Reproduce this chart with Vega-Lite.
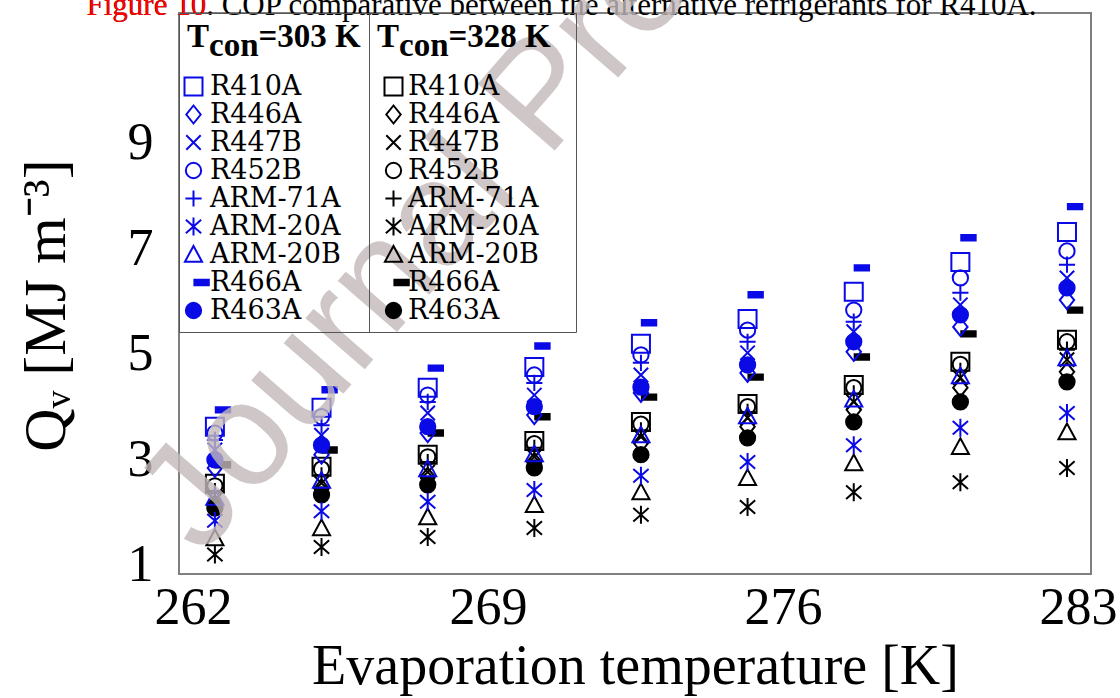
{
  "$schema": "https://vega.github.io/schema/vega-lite/v6.json",
  "width": 912,
  "height": 561,
  "autosize": {"type": "none"},
  "padding": {"left": 179, "top": 13, "right": 29, "bottom": 124},
  "background": "white",
  "config": {"font": "Liberation Serif", "view": {"stroke": "#808080", "strokeWidth": 2}},
  "data": {"values": [
    {"T":262.52,"Qv":3.62,"cond":"303 K","ref":"R410A"},{"T":265.05,"Qv":3.98,"cond":"303 K","ref":"R410A"},{"T":267.57,"Qv":4.36,"cond":"303 K","ref":"R410A"},{"T":270.10,"Qv":4.75,"cond":"303 K","ref":"R410A"},{"T":272.63,"Qv":5.19,"cond":"303 K","ref":"R410A"},{"T":275.16,"Qv":5.66,"cond":"303 K","ref":"R410A"},{"T":277.68,"Qv":6.18,"cond":"303 K","ref":"R410A"},{"T":280.21,"Qv":6.74,"cond":"303 K","ref":"R410A"},{"T":282.74,"Qv":7.31,"cond":"303 K","ref":"R410A"},
    {"T":262.52,"Qv":2.84,"cond":"303 K","ref":"R446A"},{"T":265.05,"Qv":3.09,"cond":"303 K","ref":"R446A"},{"T":267.57,"Qv":3.50,"cond":"303 K","ref":"R446A"},{"T":270.10,"Qv":3.84,"cond":"303 K","ref":"R446A"},{"T":272.63,"Qv":4.26,"cond":"303 K","ref":"R446A"},{"T":275.16,"Qv":4.64,"cond":"303 K","ref":"R446A"},{"T":277.68,"Qv":5.04,"cond":"303 K","ref":"R446A"},{"T":280.21,"Qv":5.51,"cond":"303 K","ref":"R446A"},{"T":282.74,"Qv":6.02,"cond":"303 K","ref":"R446A"},
    {"T":262.52,"Qv":3.18,"cond":"303 K","ref":"R447B"},{"T":265.05,"Qv":3.46,"cond":"303 K","ref":"R447B"},{"T":267.57,"Qv":3.88,"cond":"303 K","ref":"R447B"},{"T":270.10,"Qv":4.22,"cond":"303 K","ref":"R447B"},{"T":272.63,"Qv":4.60,"cond":"303 K","ref":"R447B"},{"T":275.16,"Qv":5.02,"cond":"303 K","ref":"R447B"},{"T":277.68,"Qv":5.42,"cond":"303 K","ref":"R447B"},{"T":280.21,"Qv":5.93,"cond":"303 K","ref":"R447B"},{"T":282.74,"Qv":6.44,"cond":"303 K","ref":"R447B"},
    {"T":262.52,"Qv":3.50,"cond":"303 K","ref":"R452B"},{"T":265.05,"Qv":3.81,"cond":"303 K","ref":"R452B"},{"T":267.57,"Qv":4.22,"cond":"303 K","ref":"R452B"},{"T":270.10,"Qv":4.60,"cond":"303 K","ref":"R452B"},{"T":272.63,"Qv":4.98,"cond":"303 K","ref":"R452B"},{"T":275.16,"Qv":5.45,"cond":"303 K","ref":"R452B"},{"T":277.68,"Qv":5.83,"cond":"303 K","ref":"R452B"},{"T":280.21,"Qv":6.44,"cond":"303 K","ref":"R452B"},{"T":282.74,"Qv":6.95,"cond":"303 K","ref":"R452B"},
    {"T":262.52,"Qv":3.37,"cond":"303 K","ref":"ARM-71A"},{"T":265.05,"Qv":3.65,"cond":"303 K","ref":"ARM-71A"},{"T":267.57,"Qv":4.09,"cond":"303 K","ref":"ARM-71A"},{"T":270.10,"Qv":4.45,"cond":"303 K","ref":"ARM-71A"},{"T":272.63,"Qv":4.83,"cond":"303 K","ref":"ARM-71A"},{"T":275.16,"Qv":5.23,"cond":"303 K","ref":"ARM-71A"},{"T":277.68,"Qv":5.61,"cond":"303 K","ref":"ARM-71A"},{"T":280.21,"Qv":6.16,"cond":"303 K","ref":"ARM-71A"},{"T":282.74,"Qv":6.69,"cond":"303 K","ref":"ARM-71A"},
    {"T":262.52,"Qv":1.84,"cond":"303 K","ref":"ARM-20A"},{"T":265.05,"Qv":2.02,"cond":"303 K","ref":"ARM-20A"},{"T":267.57,"Qv":2.20,"cond":"303 K","ref":"ARM-20A"},{"T":270.10,"Qv":2.42,"cond":"303 K","ref":"ARM-20A"},{"T":272.63,"Qv":2.69,"cond":"303 K","ref":"ARM-20A"},{"T":275.16,"Qv":2.95,"cond":"303 K","ref":"ARM-20A"},{"T":277.68,"Qv":3.27,"cond":"303 K","ref":"ARM-20A"},{"T":280.21,"Qv":3.60,"cond":"303 K","ref":"ARM-20A"},{"T":282.74,"Qv":3.88,"cond":"303 K","ref":"ARM-20A"},
    {"T":262.52,"Qv":2.28,"cond":"303 K","ref":"ARM-20B"},{"T":265.05,"Qv":2.60,"cond":"303 K","ref":"ARM-20B"},{"T":267.57,"Qv":2.82,"cond":"303 K","ref":"ARM-20B"},{"T":270.10,"Qv":3.10,"cond":"303 K","ref":"ARM-20B"},{"T":272.63,"Qv":3.46,"cond":"303 K","ref":"ARM-20B"},{"T":275.16,"Qv":3.82,"cond":"303 K","ref":"ARM-20B"},{"T":277.68,"Qv":4.14,"cond":"303 K","ref":"ARM-20B"},{"T":280.21,"Qv":4.58,"cond":"303 K","ref":"ARM-20B"},{"T":282.74,"Qv":4.92,"cond":"303 K","ref":"ARM-20B"},
    {"T":262.52,"Qv":3.94,"cond":"303 K","ref":"R466A"},{"T":265.05,"Qv":4.32,"cond":"303 K","ref":"R466A"},{"T":267.57,"Qv":4.73,"cond":"303 K","ref":"R466A"},{"T":270.10,"Qv":5.15,"cond":"303 K","ref":"R466A"},{"T":272.63,"Qv":5.59,"cond":"303 K","ref":"R466A"},{"T":275.16,"Qv":6.12,"cond":"303 K","ref":"R466A"},{"T":277.68,"Qv":6.63,"cond":"303 K","ref":"R466A"},{"T":280.21,"Qv":7.20,"cond":"303 K","ref":"R466A"},{"T":282.74,"Qv":7.79,"cond":"303 K","ref":"R466A"},
    {"T":262.52,"Qv":2.99,"cond":"303 K","ref":"R463A"},{"T":265.05,"Qv":3.27,"cond":"303 K","ref":"R463A"},{"T":267.57,"Qv":3.62,"cond":"303 K","ref":"R463A"},{"T":270.10,"Qv":4.00,"cond":"303 K","ref":"R463A"},{"T":272.63,"Qv":4.37,"cond":"303 K","ref":"R463A"},{"T":275.16,"Qv":4.79,"cond":"303 K","ref":"R463A"},{"T":277.68,"Qv":5.23,"cond":"303 K","ref":"R463A"},{"T":280.21,"Qv":5.74,"cond":"303 K","ref":"R463A"},{"T":282.74,"Qv":6.25,"cond":"303 K","ref":"R463A"},
    {"T":262.52,"Qv":2.54,"cond":"328 K","ref":"R410A"},{"T":265.05,"Qv":2.86,"cond":"328 K","ref":"R410A"},{"T":267.57,"Qv":3.09,"cond":"328 K","ref":"R410A"},{"T":270.10,"Qv":3.35,"cond":"328 K","ref":"R410A"},{"T":272.63,"Qv":3.71,"cond":"328 K","ref":"R410A"},{"T":275.16,"Qv":4.05,"cond":"328 K","ref":"R410A"},{"T":277.68,"Qv":4.41,"cond":"328 K","ref":"R410A"},{"T":280.21,"Qv":4.85,"cond":"328 K","ref":"R410A"},{"T":282.74,"Qv":5.27,"cond":"328 K","ref":"R410A"},
    {"T":262.52,"Qv":2.15,"cond":"328 K","ref":"R446A"},{"T":265.05,"Qv":2.45,"cond":"328 K","ref":"R446A"},{"T":267.57,"Qv":2.67,"cond":"328 K","ref":"R446A"},{"T":270.10,"Qv":2.95,"cond":"328 K","ref":"R446A"},{"T":272.63,"Qv":3.31,"cond":"328 K","ref":"R446A"},{"T":275.16,"Qv":3.62,"cond":"328 K","ref":"R446A"},{"T":277.68,"Qv":3.94,"cond":"328 K","ref":"R446A"},{"T":280.21,"Qv":4.36,"cond":"328 K","ref":"R446A"},{"T":282.74,"Qv":4.66,"cond":"328 K","ref":"R446A"},
    {"T":262.52,"Qv":2.23,"cond":"328 K","ref":"R447B"},{"T":265.05,"Qv":2.55,"cond":"328 K","ref":"R447B"},{"T":267.57,"Qv":2.76,"cond":"328 K","ref":"R447B"},{"T":270.10,"Qv":3.05,"cond":"328 K","ref":"R447B"},{"T":272.63,"Qv":3.43,"cond":"328 K","ref":"R447B"},{"T":275.16,"Qv":3.79,"cond":"328 K","ref":"R447B"},{"T":277.68,"Qv":4.09,"cond":"328 K","ref":"R447B"},{"T":280.21,"Qv":4.55,"cond":"328 K","ref":"R447B"},{"T":282.74,"Qv":4.89,"cond":"328 K","ref":"R447B"},
    {"T":262.52,"Qv":2.50,"cond":"328 K","ref":"R452B"},{"T":265.05,"Qv":2.82,"cond":"328 K","ref":"R452B"},{"T":267.57,"Qv":3.05,"cond":"328 K","ref":"R452B"},{"T":270.10,"Qv":3.30,"cond":"328 K","ref":"R452B"},{"T":272.63,"Qv":3.67,"cond":"328 K","ref":"R452B"},{"T":275.16,"Qv":4.00,"cond":"328 K","ref":"R452B"},{"T":277.68,"Qv":4.36,"cond":"328 K","ref":"R452B"},{"T":280.21,"Qv":4.80,"cond":"328 K","ref":"R452B"},{"T":282.74,"Qv":5.23,"cond":"328 K","ref":"R452B"},
    {"T":262.52,"Qv":2.40,"cond":"328 K","ref":"ARM-71A"},{"T":265.05,"Qv":2.70,"cond":"328 K","ref":"ARM-71A"},{"T":267.57,"Qv":2.95,"cond":"328 K","ref":"ARM-71A"},{"T":270.10,"Qv":3.22,"cond":"328 K","ref":"ARM-71A"},{"T":272.63,"Qv":3.55,"cond":"328 K","ref":"ARM-71A"},{"T":275.16,"Qv":3.90,"cond":"328 K","ref":"ARM-71A"},{"T":277.68,"Qv":4.25,"cond":"328 K","ref":"ARM-71A"},{"T":280.21,"Qv":4.68,"cond":"328 K","ref":"ARM-71A"},{"T":282.74,"Qv":5.08,"cond":"328 K","ref":"ARM-71A"},
    {"T":262.52,"Qv":1.20,"cond":"328 K","ref":"ARM-20A"},{"T":265.05,"Qv":1.34,"cond":"328 K","ref":"ARM-20A"},{"T":267.57,"Qv":1.53,"cond":"328 K","ref":"ARM-20A"},{"T":270.10,"Qv":1.70,"cond":"328 K","ref":"ARM-20A"},{"T":272.63,"Qv":1.95,"cond":"328 K","ref":"ARM-20A"},{"T":275.16,"Qv":2.10,"cond":"328 K","ref":"ARM-20A"},{"T":277.68,"Qv":2.38,"cond":"328 K","ref":"ARM-20A"},{"T":280.21,"Qv":2.57,"cond":"328 K","ref":"ARM-20A"},{"T":282.74,"Qv":2.84,"cond":"328 K","ref":"ARM-20A"},
    {"T":262.52,"Qv":1.51,"cond":"328 K","ref":"ARM-20B"},{"T":265.05,"Qv":1.70,"cond":"328 K","ref":"ARM-20B"},{"T":267.57,"Qv":1.91,"cond":"328 K","ref":"ARM-20B"},{"T":270.10,"Qv":2.14,"cond":"328 K","ref":"ARM-20B"},{"T":272.63,"Qv":2.38,"cond":"328 K","ref":"ARM-20B"},{"T":275.16,"Qv":2.65,"cond":"328 K","ref":"ARM-20B"},{"T":277.68,"Qv":2.93,"cond":"328 K","ref":"ARM-20B"},{"T":280.21,"Qv":3.24,"cond":"328 K","ref":"ARM-20B"},{"T":282.74,"Qv":3.52,"cond":"328 K","ref":"ARM-20B"},
    {"T":262.52,"Qv":2.90,"cond":"328 K","ref":"R466A"},{"T":265.05,"Qv":3.18,"cond":"328 K","ref":"R466A"},{"T":267.57,"Qv":3.50,"cond":"328 K","ref":"R466A"},{"T":270.10,"Qv":3.81,"cond":"328 K","ref":"R466A"},{"T":272.63,"Qv":4.18,"cond":"328 K","ref":"R466A"},{"T":275.16,"Qv":4.56,"cond":"328 K","ref":"R466A"},{"T":277.68,"Qv":4.94,"cond":"328 K","ref":"R466A"},{"T":280.21,"Qv":5.38,"cond":"328 K","ref":"R466A"},{"T":282.74,"Qv":5.83,"cond":"328 K","ref":"R466A"},
    {"T":262.52,"Qv":2.08,"cond":"328 K","ref":"R463A"},{"T":265.05,"Qv":2.33,"cond":"328 K","ref":"R463A"},{"T":267.57,"Qv":2.52,"cond":"328 K","ref":"R463A"},{"T":270.10,"Qv":2.84,"cond":"328 K","ref":"R463A"},{"T":272.63,"Qv":3.09,"cond":"328 K","ref":"R463A"},{"T":275.16,"Qv":3.41,"cond":"328 K","ref":"R463A"},{"T":277.68,"Qv":3.71,"cond":"328 K","ref":"R463A"},{"T":280.21,"Qv":4.09,"cond":"328 K","ref":"R463A"},{"T":282.74,"Qv":4.47,"cond":"328 K","ref":"R463A"}
  ]},
  "layer": [
    {
      "transform": [{"filter": "datum.cond === '328 K'"}],
      "mark": {"type": "point", "stroke": "black", "strokeWidth": 2, "opacity": 1, "size": 324},
      "encoding": {
        "x": {"field": "T", "type": "quantitative", "scale": {"domain": [261.668, 283.31], "nice": false, "zero": false},
          "axis": {"values": [262, 269, 276, 283], "title": "Evaporation temperature [K]", "grid": false, "ticks": false, "tickSize": 0, "domain": false,
            "labelFont": "Liberation Serif", "labelFontSize": 52, "labelColor": "black", "labelPadding": 8, "labelFlush": false, "labelOverlap": false,
            "titleFont": "Liberation Serif", "titleFontSize": 56, "titleFontWeight": "normal", "titleColor": "black", "titlePadding": 6}},
        "y": {"field": "Qv", "type": "quantitative", "scale": {"domain": [0.829, 11.46], "nice": false, "zero": false},
          "axis": {"values": [1, 3, 5, 7, 9], "title": "Qᵥ [MJ m⁻³]", "grid": false, "ticks": false, "tickSize": 0, "domain": false,
            "labelFont": "Liberation Serif", "labelFontSize": 52, "labelColor": "black", "labelPadding": 26, "labelFlush": false, "labelOverlap": false,
            "titleFont": "Liberation Serif", "titleFontSize": 60, "titleFontWeight": "normal", "titleColor": "black", "titlePadding": 50, "titleY": 292}},
        "shape": {"field": "ref", "type": "nominal",
          "scale": {"domain": ["R410A","R446A","R447B","R452B","ARM-71A","ARM-20A","ARM-20B","R466A","R463A"],
            "range": ["M-1,-1H1V1H-1Z","M0,-1L0.8,0L0,1L-0.8,0Z","M-0.8,-0.8L0.8,0.8M-0.8,0.8L0.8,-0.8","M-0.85,0A0.85,0.85,0,1,1,0.85,0A0.85,0.85,0,1,1,-0.85,0Z","M-0.9,0H0.9M0,-0.9V0.9","M0,-1V1M-0.85,-0.75L0.85,0.75M-0.85,0.75L0.85,-0.75","M0,-0.95L0.95,0.8H-0.95Z","M0.1,-0.3H1.7V0.3H0.1Z","M-0.85,0A0.85,0.85,0,1,1,0.85,0A0.85,0.85,0,1,1,-0.85,0Z"]},
          "legend": {"orient": "none", "legendX": 190, "legendY": 0, "direction": "vertical",
            "title": ["T\u2002\u2002\u2002=328 K\u2002\u200b", "\u200b\u2002\u2006con"],
            "titleFont": "Liberation Serif", "titleFontSize": 33, "titleFontWeight": "bold", "titleColor": "black", "titleLineHeight": 9, "titlePadding": 10, "titleAlign": "left", "titleLimit": 400,
            "labelFont": "DejaVu Serif", "labelFontSize": 27, "labelColor": "black", "labelOffset": 1, "symbolOffset": 3, "labelLimit": 300,
            "symbolSize": 324, "symbolStrokeWidth": 2, "rowPadding": 0, "padding": 8, "strokeColor": "#555555",
            "encode": {"symbols": {"update": {"shape": {"signal": "{'R410A':'M-1,-1H1V1H-1Z','R446A':'M0,-1L0.8,0L0,1L-0.8,0Z','R447B':'M-0.8,-0.8L0.8,0.8M-0.8,0.8L0.8,-0.8','R452B':'M-0.85,0A0.85,0.85,0,1,1,0.85,0A0.85,0.85,0,1,1,-0.85,0Z','ARM-71A':'M-0.9,0H0.9M0,-0.9V0.9','ARM-20A':'M0,-1V1M-0.85,-0.75L0.85,0.75M-0.85,0.75L0.85,-0.75','ARM-20B':'M0,-0.95L0.95,0.8H-0.95Z','R466A':'M-0.4,-0.18H0.4V0.18H-0.4Z','R463A':'M-0.85,0A0.85,0.85,0,1,1,0.85,0A0.85,0.85,0,1,1,-0.85,0Z'}[datum.value]"}}}}}},
        "fill": {"field": "ref", "type": "nominal",
          "scale": {"domain": ["R410A","R446A","R447B","R452B","ARM-71A","ARM-20A","ARM-20B","R466A","R463A"],
            "range": ["transparent","transparent","transparent","transparent","transparent","transparent","transparent","black","black"]},
          "legend": {"orient": "none", "legendX": 190, "legendY": 0, "direction": "vertical",
            "title": ["T\u2002\u2002\u2002=328 K\u2002\u200b", "\u200b\u2002\u2006con"],
            "titleFont": "Liberation Serif", "titleFontSize": 33, "titleFontWeight": "bold", "titleColor": "black", "titleLineHeight": 9, "titlePadding": 10, "titleAlign": "left", "titleLimit": 400,
            "labelFont": "DejaVu Serif", "labelFontSize": 27, "labelColor": "black", "labelOffset": 1, "symbolOffset": 3, "labelLimit": 300,
            "symbolSize": 324, "symbolStrokeWidth": 2, "rowPadding": 0, "padding": 8, "strokeColor": "#555555"}}
      }
    },
    {
      "transform": [{"filter": "datum.cond === '303 K'"}],
      "mark": {"type": "point", "stroke": "#0a0ae6", "strokeWidth": 2, "opacity": 1, "size": 324},
      "encoding": {
        "x": {"field": "T", "type": "quantitative", "axis": null},
        "y": {"field": "Qv", "type": "quantitative", "axis": null},
        "shape": {"field": "ref", "type": "nominal",
          "scale": {"domain": ["R410A","R446A","R447B","R452B","ARM-71A","ARM-20A","ARM-20B","R466A","R463A"],
            "range": ["M-1,-1H1V1H-1Z","M0,-1L0.8,0L0,1L-0.8,0Z","M-0.8,-0.8L0.8,0.8M-0.8,0.8L0.8,-0.8","M-0.85,0A0.85,0.85,0,1,1,0.85,0A0.85,0.85,0,1,1,-0.85,0Z","M-0.9,0H0.9M0,-0.9V0.9","M0,-1V1M-0.85,-0.75L0.85,0.75M-0.85,0.75L0.85,-0.75","M0,-0.95L0.95,0.8H-0.95Z","M0.1,-0.3H1.7V0.3H0.1Z","M-0.85,0A0.85,0.85,0,1,1,0.85,0A0.85,0.85,0,1,1,-0.85,0Z"]},
          "legend": {"orient": "none", "legendX": 0, "legendY": 0, "direction": "vertical",
            "title": ["T\u2002\u2002\u2002=303 K", "\u200b\u2002\u2006con"],
            "titleFont": "Liberation Serif", "titleFontSize": 33, "titleFontWeight": "bold", "titleColor": "black", "titleLineHeight": 9, "titlePadding": 10, "titleAlign": "left", "titleLimit": 400,
            "labelFont": "DejaVu Serif", "labelFontSize": 27, "labelColor": "black", "labelOffset": 3, "symbolOffset": -7, "labelLimit": 300,
            "symbolSize": 324, "symbolStrokeWidth": 2, "rowPadding": 0, "padding": 8, "strokeColor": "#555555",
            "encode": {"symbols": {"update": {"shape": {"signal": "{'R410A':'M-1,-1H1V1H-1Z','R446A':'M0,-1L0.8,0L0,1L-0.8,0Z','R447B':'M-0.8,-0.8L0.8,0.8M-0.8,0.8L0.8,-0.8','R452B':'M-0.85,0A0.85,0.85,0,1,1,0.85,0A0.85,0.85,0,1,1,-0.85,0Z','ARM-71A':'M-0.9,0H0.9M0,-0.9V0.9','ARM-20A':'M0,-1V1M-0.85,-0.75L0.85,0.75M-0.85,0.75L0.85,-0.75','ARM-20B':'M0,-0.95L0.95,0.8H-0.95Z','R466A':'M-0.4,-0.18H0.4V0.18H-0.4Z','R463A':'M-0.85,0A0.85,0.85,0,1,1,0.85,0A0.85,0.85,0,1,1,-0.85,0Z'}[datum.value]"}}}}}},
        "fill": {"field": "ref", "type": "nominal",
          "scale": {"domain": ["R410A","R446A","R447B","R452B","ARM-71A","ARM-20A","ARM-20B","R466A","R463A"],
            "range": ["transparent","transparent","transparent","transparent","transparent","transparent","transparent","#0a0ae6","#0a0ae6"]},
          "legend": {"orient": "none", "legendX": 0, "legendY": 0, "direction": "vertical",
            "title": ["T\u2002\u2002\u2002=303 K", "\u200b\u2002\u2006con"],
            "titleFont": "Liberation Serif", "titleFontSize": 33, "titleFontWeight": "bold", "titleColor": "black", "titleLineHeight": 9, "titlePadding": 10, "titleAlign": "left", "titleLimit": 400,
            "labelFont": "DejaVu Serif", "labelFontSize": 27, "labelColor": "black", "labelOffset": 3, "symbolOffset": -7, "labelLimit": 300,
            "symbolSize": 324, "symbolStrokeWidth": 2, "rowPadding": 0, "padding": 8, "strokeColor": "#555555"}}
      }
    },
    {
      "data": {"values": [{"w": "Journal Pre-proof"}]},
      "mark": {"type": "text", "angle": 311, "align": "left", "baseline": "alphabetic", "font": "Liberation Sans", "fontSize": 148, "fill": "#c4baba", "opacity": 0.8},
      "encoding": {
        "x": {"datum": 262.2, "axis": {"orient": "top", "labels": false, "ticks": false, "domain": false, "grid": false,
          "title": "Figure 10. COP comparative between the alternative refrigerants for R410A.",
          "titleX": -93, "titleY": 1, "titleAngle": 0, "titleAlign": "left", "titleBaseline": "alphabetic",
          "titleFont": "Liberation Serif", "titleFontSize": 31, "titleFontWeight": "normal", "titleColor": "black"}},
        "y": {"datum": 1.15, "axis": {"orient": "right", "labels": false, "ticks": false, "domain": false, "grid": false,
          "title": "Figure 10",
          "titleX": -1005, "titleY": 1, "titleAngle": 0, "titleAlign": "left", "titleBaseline": "alphabetic",
          "titleFont": "Liberation Serif", "titleFontSize": 31, "titleFontWeight": "normal", "titleColor": "#ff0000"}},
        "text": {"field": "w"}
      }
    }
  ],
  "resolve": {"scale": {"shape": "independent", "fill": "independent"}, "axis": {"x": "independent", "y": "independent"}}
}
